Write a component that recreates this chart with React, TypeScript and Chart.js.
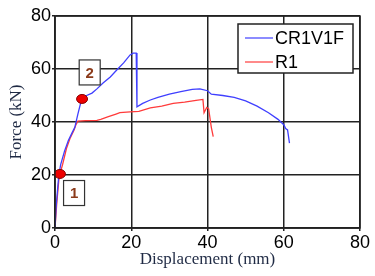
import React, { useEffect, useRef } from "react";
import { Chart, registerables } from "chart.js";
Chart.register(...registerables);

const blueX = [0, 0.3, 0.7, 1.0, 1.5, 2.5, 3.5, 4.5, 5.2, 6.0, 7.0, 8.3, 9.7, 11, 12.6, 14.5, 16.2, 18, 19.7, 20.5, 21.3, 21.5, 23, 25, 27, 30, 33, 36, 38, 40, 41, 44, 47, 50, 53, 56, 58.5, 60, 60.5, 61, 61.5];
const blueY = [0, 8, 15, 20, 24, 29, 33, 36, 38, 43, 48.7, 50, 50.9, 52.5, 54.7, 57, 59.6, 62.3, 65.3, 66, 66, 45.7, 47, 48.3, 49.3, 50.5, 51.5, 52.3, 52.5, 51.8, 50.5, 50, 49.3, 48, 46, 43.5, 41, 39, 37.5, 37, 32];
const redX = [0, 0.5, 1.0, 1.3, 2, 3, 4, 5, 5.5, 6, 8, 11, 12, 14, 16, 17, 19.7, 22, 25, 28, 31, 34, 37, 38.8, 39.1, 39.8, 40.3, 41, 41.5];
const redY = [0, 10, 18, 20.4, 24, 30, 34, 37, 39, 40.3, 40.5, 40.6, 41, 42, 43, 43.5, 43.8, 44, 45.3, 46, 47, 47.5, 48.2, 48.5, 43.5, 45.5, 45, 38, 34.5];
const seriesNames = ["CR1V1F", "R1"];
const dotX = [1.3, 7.1];
const dotY = [20.4, 48.7];
const boxLabels = ["1", "2"];
const boxX = [5, 9.1];
const boxY = [13.2, 58.7];
const xTicks = [0, 20, 40, 60, 80];
const yTicks = [0, 20, 40, 60, 80];

const BLUE = "#3f3fff";
const RED = "#ff3b3b";
const TITLE = "#1f2a44";

const annotPlugin = {
  id: "annot",
  afterDatasetsDraw(chart: any) {
    const ctx = chart.ctx;
    const xs = chart.scales.x;
    const ys = chart.scales.y;
    ctx.save();
    for (let i = 0; i < boxLabels.length; i++) {
      const cx = xs.getPixelForValue(boxX[i]);
      const cy = ys.getPixelForValue(boxY[i]);
      const w = 21, h = 25;
      ctx.fillStyle = "#ffffff";
      ctx.fillRect(cx - w / 2, cy - h / 2, w, h);
      ctx.strokeStyle = "#333333";
      ctx.lineWidth = 1.2;
      ctx.strokeRect(cx - w / 2, cy - h / 2, w, h);
      ctx.fillStyle = "#8b3a1a";
      ctx.font = "bold 15px 'Liberation Sans', Arial, sans-serif";
      ctx.textAlign = "center";
      ctx.textBaseline = "middle";
      ctx.fillText(boxLabels[i], cx, cy + 1);
    }
    for (let i = 0; i < dotX.length; i++) {
      const px = xs.getPixelForValue(dotX[i]);
      const py = ys.getPixelForValue(dotY[i]);
      ctx.beginPath();
      ctx.ellipse(px, py, 5.5, 4.5, 0, 0, Math.PI * 2);
      ctx.fillStyle = "#ee0000";
      ctx.fill();
      ctx.strokeStyle = "#880000";
      ctx.lineWidth = 1;
      ctx.stroke();
    }
    const lx = 238, ly = 24, lw = 115, lh = 49;
    ctx.fillStyle = "#ffffff";
    ctx.fillRect(lx, ly, lw, lh);
    ctx.strokeStyle = "#222222";
    ctx.lineWidth = 1.5;
    ctx.strokeRect(lx, ly, lw, lh);
    const cols = [BLUE, RED];
    chart.data.datasets.forEach((ds: any, i: number) => {
      const yy = ly + 14 + i * 24;
      ctx.strokeStyle = cols[i];
      ctx.lineWidth = 1.2;
      ctx.beginPath();
      ctx.moveTo(lx + 7, yy);
      ctx.lineTo(lx + 35, yy);
      ctx.stroke();
      ctx.fillStyle = "#000000";
      ctx.font = "18px 'Liberation Sans', Arial, sans-serif";
      ctx.textAlign = "left";
      ctx.textBaseline = "middle";
      ctx.fillText(ds.label, lx + 37, yy + 1);
    });
    ctx.restore();
  },
};

export default function App() {
  const ref = useRef<HTMLCanvasElement>(null);
  useEffect(() => {
    document.body.style.margin = "0";
    const canvas = ref.current!;
    const chart = new Chart(canvas, {
      type: "scatter",
      data: {
        datasets: [
          {
            label: seriesNames[0],
            data: blueX.map((x, i) => ({ x, y: blueY[i] })),
            showLine: true,
            borderColor: BLUE,
            borderWidth: 1.3,
            pointRadius: 0,
            tension: 0,
          },
          {
            label: seriesNames[1],
            data: redX.map((x, i) => ({ x, y: redY[i] })),
            showLine: true,
            borderColor: RED,
            borderWidth: 1.3,
            pointRadius: 0,
            tension: 0,
          },
        ],
      },
      options: {
        animation: false,
        responsive: false,
        layout: { padding: { top: 16, right: 15, left: 0, bottom: 0 } },
        plugins: { legend: { display: false }, tooltip: { enabled: false } },
        scales: {
          x: {
            type: "linear",
            min: 0,
            max: 80,
            afterBuildTicks: (s: any) => { s.ticks = xTicks.map((v) => ({ value: v })); },
            afterFit: (s: any) => { s.height = 48; },
            grid: { color: "#222222", lineWidth: 1.5, tickLength: 3, drawTicks: true },
            border: { color: "#222222", width: 1.5 },
            ticks: { color: "#000", font: { family: "'Liberation Sans', Arial, sans-serif", size: 18 }, padding: 1, maxRotation: 0 },
            title: { display: true, text: "Displacement (mm)", color: TITLE, font: { family: "'Liberation Serif', 'Times New Roman', serif", size: 17 }, padding: { top: 0, bottom: 6 } },
          },
          y: {
            type: "linear",
            min: 0,
            max: 80,
            afterBuildTicks: (s: any) => { s.ticks = yTicks.map((v) => ({ value: v })); },
            afterFit: (s: any) => { s.width = 55; },
            grid: { color: "#222222", lineWidth: 1.5, tickLength: 3 },
            border: { color: "#222222", width: 1.5 },
            ticks: { color: "#000", font: { family: "'Liberation Sans', Arial, sans-serif", size: 18 }, padding: 1 },
            title: { display: true, text: "Force (kN)", color: TITLE, font: { family: "'Liberation Serif', 'Times New Roman', serif", size: 17 }, padding: { top: 6, bottom: 0 } },
          },
        },
      },
      plugins: [
        annotPlugin,
        {
          id: "frame",
          afterDraw(c: any) {
            const a = c.chartArea;
            const ctx = c.ctx;
            ctx.save();
            ctx.strokeStyle = "#222222";
            ctx.lineWidth = 1.5;
            ctx.strokeRect(a.left, a.top, a.right - a.left, a.bottom - a.top);
            ctx.restore();
          },
        },
      ],
    } as any);
    return () => chart.destroy();
  }, []);
  return (
    <div style={{ width: 375, height: 276, background: "#fff" }}>
      <canvas ref={ref} width={375} height={276} />
    </div>
  );
}
